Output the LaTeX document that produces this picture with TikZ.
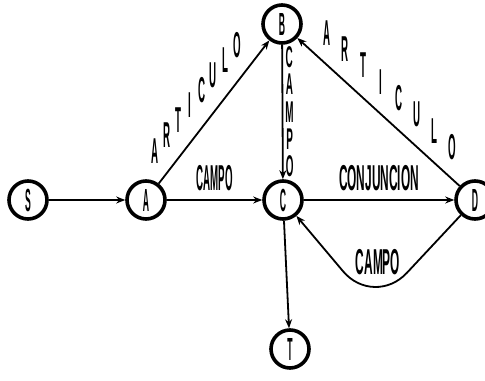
\documentclass[tikz,border=0pt]{standalone}
\usepackage{fontspec}
\newfontfamily\condfont[FakeStretch=0.27]{Liberation Sans}
\newfontfamily\widecond[FakeStretch=0.33]{Liberation Sans}
\usetikzlibrary{arrows.meta,calc}
\tikzset{
  state/.style={circle, draw, line width=1.8pt, minimum size=19pt, inner sep=0pt,
    font=\condfont\bfseries\fontsize{16}{16}\selectfont},
  edge/.style={->, line width=0.9pt},
  lbl/.style={inner sep=0pt, font=\condfont\bfseries\fontsize{18}{18}\selectfont},
  widelbl/.style={lbl, font=\widecond\bfseries\fontsize{18}{18}\selectfont},
  stacklbl/.style={lbl, font=\widecond\bfseries\fontsize{15}{15}\selectfont}
}
\begin{document}
\begin{tikzpicture}[x=0.5pt, y=0.5pt, >={Stealth[length=4.5pt,width=3.5pt]}]
  \useasboundingbox (0,0) rectangle (485,380);
  % states
  \node[state] (S) at (28,180) {S};
  \node[state] (A) at (146,180) {A};
  \node[state] (B) at (282,356) {B};
  \node[state] (C) at (283,180) {C};
  \node[state] (D) at (475,180) {D};
  \node[state] (T) at (290,31) {T};
  \coordinate (dip) at (374,72);
  % transitions
  \draw[edge] (S) -- (A);
  \draw[edge] (A) -- node[lbl, above=4pt] (campoAC) {CAMPO} (C);
  \draw[edge] (C) -- node[widelbl, above=4pt] (conjCD) {CONJUNCION} (D);
  \draw[edge] (A) -- (B);
  \draw[edge] (D) -- (B);
  \draw[edge] (B) -- (C);
  \draw[edge] (C) -- (T);
  \draw[edge, rounded corners=24pt] (D) -- (dip) -- (C);
  \node[widelbl] (campoDC) at (378,118) {CAMPO};
  % spaced letters along the edges
  \foreach \l [count=\i from 0] in {A,R,T,I,C,U,L,O}
    \node[lbl] (artAB\i) at ($(A)!{0.2+0.086*\i}!(B)!11.5pt!90:(B)$) {\l};
  \foreach \l [count=\i from 0] in {A,R,T,I,C,U,L,O}
    \node[lbl] (artDB\i) at ($(B)!{0.15+0.093*\i}!(D)!12pt!90:(D)$) {\l};
  \foreach \l [count=\i from 0] in {C,A,M,P,O}
    \node[stacklbl] (campoBC\i) at ($(B)!{0.19+0.155*\i}!(C)!3.5pt!90:(C)$) {\l};
\end{tikzpicture}
\end{document}
